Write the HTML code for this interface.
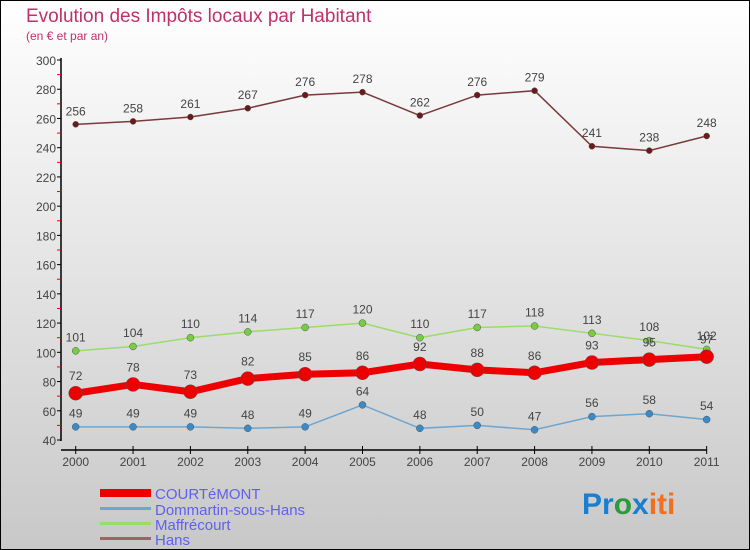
<!DOCTYPE html>
<html><head><meta charset="utf-8"><style>
body{margin:0}
#c{width:750px;height:550px;position:relative;box-sizing:border-box;border:1px solid #000;background:linear-gradient(#fff,#c8c8c8);overflow:hidden;font-family:"Liberation Sans",sans-serif}
</style></head><body>
<div id="c">
<svg width="748" height="548" viewBox="1 1 748 548" id="s" style="position:absolute;left:0;top:0">
<text x="26" y="22" font-size="19" fill="#c0306a">Evolution des Impôts locaux par Habitant</text>
<text x="26" y="40" font-size="12" fill="#c0306a">(en € et par an)</text>
<g id="g"></g>
<text x="155" y="499" font-size="15" fill="#6060f0">COURTéMONT</text>
<rect x="100" y="489" width="51" height="8" fill="#e00"/>
<text x="155" y="515" font-size="15" fill="#6060f0">Dommartin-sous-Hans</text>
<rect x="100" y="507" width="51" height="3" fill="#6fa6cf"/>
<text x="155" y="530" font-size="15" fill="#6060f0">Maffrécourt</text>
<rect x="100" y="522" width="51" height="3" fill="#9d6"/>
<text x="155" y="545" font-size="15" fill="#6060f0">Hans</text>
<rect x="100" y="537" width="51" height="3" fill="#966"/>
<text x="582" y="514" font-size="30" font-weight="bold"><tspan fill="#1a7fd0">Pr</tspan><tspan fill="#2a9a3a">o</tspan><tspan fill="#1a7fd0">x</tspan><tspan fill="#f07020">iti</tspan></text>
</svg></div>
<script>
const years=["2000","2001","2002","2003","2004","2005","2006","2007","2008","2009","2010","2011"];
const courtemont=[72,78,73,82,85,86,92,88,86,93,95,97];
const dommartin=[49,49,49,48,49,64,48,50,47,56,58,54];
const maffrecourt=[101,104,110,114,117,120,110,117,118,113,108,102];
const hans=[256,258,261,267,276,278,262,276,279,241,238,248];
const yTicks=[40,60,80,100,120,140,160,180,200,220,240,260,280,300];
const NS="http://www.w3.org/2000/svg",g=document.getElementById("g");
const X=i=>75.7+i*57.36, Y=v=>440-(v-40)*1.4615;
function el(t,a,name){const e=document.createElementNS(NS,t);for(const k in a)e.setAttribute(k,a[k]);


g.appendChild(e);return e;}
el("line",{x1:61,y1:58,x2:61,y2:441,stroke:"#000","stroke-width":1.5},"y-axis");
el("line",{x1:61,y1:450,x2:707,y2:450,stroke:"#000","stroke-width":1.5},"x-axis");
yTicks.forEach(v=>{el("line",{x1:57,x2:61,y1:Y(v),y2:Y(v),stroke:"#000"},"y-tick");
const t=el("text",{x:56,y:Y(v)+5,"font-size":12,fill:"#444","text-anchor":"end"},"y-tick-label");t.textContent=v;
if(v<300)el("line",{x1:57,x2:61,y1:Y(v+10),y2:Y(v+10),stroke:"#e00"},"y-minor-tick");});
years.forEach((y,i)=>{el("line",{x1:X(i),x2:X(i),y1:446,y2:454,stroke:"#000"},"x-tick");
const t=el("text",{x:X(i),y:466,"font-size":12,fill:"#444","text-anchor":"middle"},"x-tick-label");t.textContent=y;});
function series(d,col,dot,w,r,name){
el("polyline",{points:d.map((v,i)=>X(i)+","+Y(v)).join(" "),fill:"none",stroke:col,"stroke-width":w},name+"-line");
d.forEach((v,i)=>{el("circle",{cx:X(i),cy:Y(v),r:r,fill:dot,stroke:"#555","stroke-width":0.5},name+"-point");
const t=el("text",{x:X(i),y:Y(v)-(r+6),"font-size":12,fill:"#444","text-anchor":"middle"},name+"-value");t.textContent=v;});}
series(hans,"#7a3a3a","#6a1a1a",1.5,3,"hans");
series(maffrecourt,"#9d6","#7c4",1.5,3.5,"maffrecourt");
series(dommartin,"#6fa6cf","#3a8ac8",1.5,3.5,"dommartin");
series(courtemont,"#e00","#e00",7,7,"courtemont");
</script></body></html>
